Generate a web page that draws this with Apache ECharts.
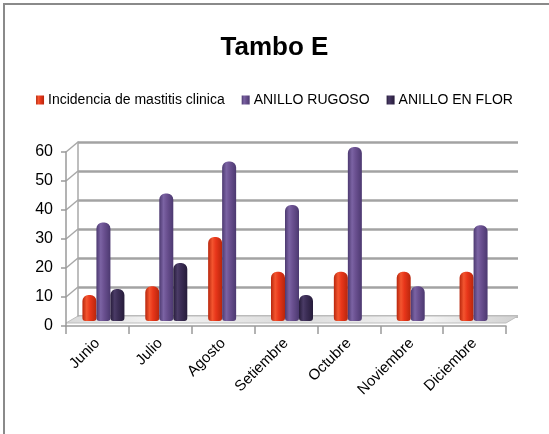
<!DOCTYPE html>
<html>
<head>
<meta charset="utf-8">
<script src="https://cdn.jsdelivr.net/npm/echarts@6/dist/echarts.min.js"></script>
<style>
  html, body { margin: 0; padding: 0; background: #ffffff; overflow: hidden; }
  #frame { position: absolute; left: 3px; top: 3px; width: 600px; height: 500px;
           border-left: 2px solid #8a8a8a; border-top: 2px solid #8a8a8a; }
  #chart { position: absolute; left: 0; top: 0; width: 549px; height: 434px; }
</style>
</head>
<body>
<div id="frame"></div>
<div id="chart"></div>
<script>
// Months on the category axis
const months = ['Junio', 'Julio', 'Agosto', 'Setiembre', 'Octubre', 'Noviembre', 'Diciembre'];

// Series values per month
const mastitis = [9, 12, 29, 17, 17, 17, 17];
const anilloRugoso = [34, 44, 55, 40, 60, 12, 33];
const anilloEnFlor = [11, 20, 0, 9, 0, 0, 0];

// Value axis range and step
const yMin = 0;
const yMax = 60;
const yStep = 10;

const seriesNames = ['Incidencia de mastitis clinica', 'ANILLO RUGOSO', 'ANILLO EN FLOR'];

// Cylinder shading: dark edges with a lighter band left of centre
function cylinder(edge, mid, light) {
  return new echarts.graphic.LinearGradient(0, 0, 1, 0, [
    { offset: 0, color: edge },
    { offset: 0.3, color: light },
    { offset: 0.55, color: mid },
    { offset: 1, color: edge }
  ]);
}

const chart = echarts.init(document.getElementById('chart'), null, { renderer: 'canvas' });

const font = 'Liberation Sans, Arial, sans-serif';

function barSeries(name, data, fill) {
  return {
    name: name,
    type: 'bar',
    xAxisIndex: 1,
    yAxisIndex: 1,
    data: data,
    barWidth: 14,
    barGap: '0%',
    itemStyle: { color: fill, borderRadius: [6, 6, 3, 3] }
  };
}

chart.setOption({
  animation: false,
  title: {
    text: 'Tambo E',
    left: 'center',
    top: 30,
    textStyle: { fontFamily: font, fontSize: 26, fontWeight: 'bold', color: '#000' }
  },
  legend: {
    top: 88,
    left: 'center',
    itemWidth: 8,
    itemHeight: 9,
    itemGap: 17,
    icon: 'rect',
    textStyle: { fontFamily: font, fontSize: 14, color: '#000', padding: [0, 0, 0, -1] },
    data: seriesNames
  },
  grid: [
    // back wall
    { left: 78, right: 31, top: 142, bottom: 118 },
    // mid plane where the cylinders stand
    { left: 72, right: 37, top: 147, bottom: 113 },
    // front edge carrying the axes
    { left: 66, right: 43, top: 152, bottom: 108 }
  ],
  xAxis: [
    { gridIndex: 0, type: 'category', data: months, show: false },
    { gridIndex: 1, type: 'category', data: months, show: false },
    {
      gridIndex: 2, type: 'category', data: months,
      axisLine: { show: true, lineStyle: { color: '#9a9a9a', width: 1.5 } },
      axisTick: { show: true, length: 8, lineStyle: { color: '#9a9a9a', width: 1.5 } },
      axisLabel: { rotate: 45, fontFamily: font, fontSize: 15, color: '#000', margin: 15 }
    }
  ],
  yAxis: [
    {
      gridIndex: 0, type: 'value', min: yMin, max: yMax, interval: yStep,
      axisLabel: { show: false }, axisTick: { show: false },
      axisLine: { show: true, lineStyle: { color: '#a8a8a8', width: 1.5 } },
      splitLine: { show: true, lineStyle: { color: '#a3a3a3', width: 2.5 } }
    },
    {
      gridIndex: 1, type: 'value', min: yMin, max: yMax, interval: yStep, show: false,
      splitLine: { show: false }
    },
    {
      gridIndex: 2, type: 'value', min: yMin, max: yMax, interval: yStep,
      axisLine: { show: true, lineStyle: { color: '#9a9a9a', width: 1.5 } },
      axisTick: { show: true, length: 5, lineStyle: { color: '#9a9a9a', width: 1.5 } },
      axisLabel: { fontFamily: font, fontSize: 16, color: '#000', margin: 13 },
      splitLine: { show: false }
    }
  ],
  series: [
    barSeries(seriesNames[0], mastitis, cylinder('#b8260c', '#e8361a', '#f3552f')),
    barSeries(seriesNames[1], anilloRugoso, cylinder('#4c3970', '#6a5090', '#7b63a3')),
    barSeries(seriesNames[2], anilloEnFlor, cylinder('#261c3a', '#3b2d55', '#4a3b66'))
  ]
});

// Floor slab and side-wall lines, placed through the axis scales
const cats = months.length - 1;
const f0 = chart.convertToPixel({ xAxisIndex: 2, yAxisIndex: 2 }, [0, yMin]);
const b0 = chart.convertToPixel({ xAxisIndex: 0, yAxisIndex: 0 }, [0, yMin]);
const bandF = chart.getModel().getComponent('xAxis', 2).axis.getBandWidth();
const bandB = chart.getModel().getComponent('xAxis', 0).axis.getBandWidth();
const fL = f0[0] - bandF / 2, fR = chart.convertToPixel({ xAxisIndex: 2 }, cats) + bandF / 2;
const bL = b0[0] - bandB / 2, bR = chart.convertToPixel({ xAxisIndex: 0 }, cats) + bandB / 2;
const fy = f0[1] - 3, by = b0[1];

const graphics = [
  {
    type: 'polygon', z: 0, silent: true,
    shape: { points: [[fL, fy], [fR, fy], [bR, by], [bL, by]] },
    style: {
      fill: new echarts.graphic.LinearGradient(0, 0, 1, 0, [
        { offset: 0, color: '#d8d8d8' }, { offset: 0.2, color: '#f4f4f4' },
        { offset: 0.5, color: '#dcdcdc' }, { offset: 0.8, color: '#f4f4f4' },
        { offset: 1, color: '#d0d0d0' }
      ]),
      stroke: '#bdbdbd', lineWidth: 1
    }
  }
];
for (let v = yMin + yStep; v <= yMax; v += yStep) {
  const a = chart.convertToPixel({ yAxisIndex: 2 }, v);
  const b = chart.convertToPixel({ yAxisIndex: 0 }, v);
  graphics.push({
    type: 'line', z: 0, silent: true,
    shape: { x1: fL, y1: a, x2: bL, y2: b },
    style: { stroke: '#a8a8a8', lineWidth: 1.5 }
  });
}
chart.setOption({ graphic: graphics });
</script>
</body>
</html>
